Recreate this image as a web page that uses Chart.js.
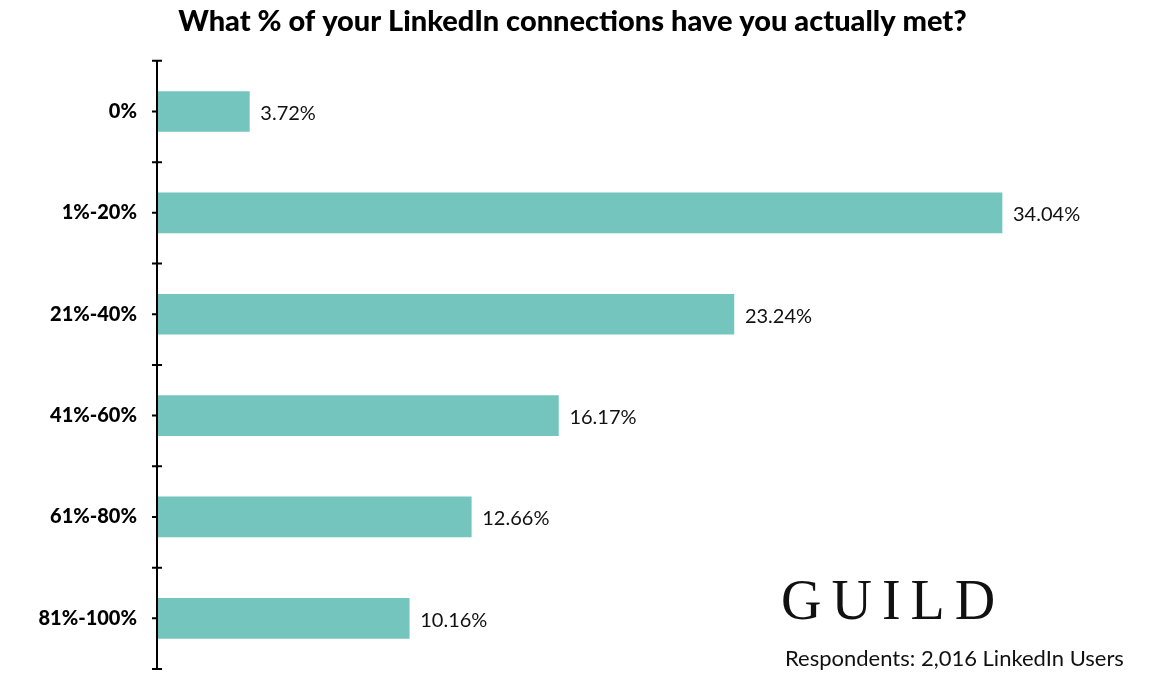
<!DOCTYPE html>
<html><head><meta charset="utf-8">
<script src="https://cdn.jsdelivr.net/npm/chart.js@4"></script>
<style>
body{margin:0;background:#fff;width:1165px;height:697px;overflow:hidden;position:relative;font-family:Lato,"Open Sans",sans-serif}
#wrap{position:absolute;left:0;top:0;width:1165px;height:697px}
#guild{position:absolute;left:781px;top:568px;font-family:"Liberation Serif","DejaVu Serif",serif;font-size:56px;letter-spacing:10px;color:#111}
#resp{position:absolute;left:785px;top:644px;font-size:22px;color:#111}
</style></head><body>
<div id="wrap"><canvas id="c"></canvas></div>
<div id="guild">GUILD</div>
<div id="resp">Respondents: 2,016 LinkedIn Users</div>
<script>
const categories = ["0%", "1%-20%", "21%-40%", "41%-60%", "61%-80%", "81%-100%"];
const values = [3.72, 34.04, 23.24, 16.17, 12.66, 10.16];

const extras = {
  id: 'extras',
  afterDraw(chart) {
    const ctx = chart.ctx, y = chart.scales.y, x = chart.scales.x;
    const ax = x.getPixelForValue(0);
    ctx.save();
    ctx.strokeStyle = '#000';
    ctx.lineWidth = 2;
    ctx.beginPath();
    ctx.moveTo(ax, chart.chartArea.top);
    ctx.lineTo(ax, chart.chartArea.bottom);
    for (let i = 0; i <= categories.length; i++) {
      const py = y.getPixelForValue(i - 0.5);
      ctx.moveTo(ax - 5, py); ctx.lineTo(ax + 5, py);
    }
    categories.forEach((c, i) => {
      const py = y.getPixelForValue(i);
      ctx.moveTo(ax - 5, py); ctx.lineTo(ax, py);
    });
    ctx.stroke();
    ctx.fillStyle = '#111';
    ctx.font = '20px Lato, sans-serif';
    ctx.textBaseline = 'middle';
    values.forEach((v, i) => {
      ctx.fillText(v.toFixed(2) + '%', x.getPixelForValue(v) + 11, y.getPixelForValue(i) + 2);
    });
    ctx.restore();
  }
};

new Chart(document.getElementById('c'), {
  type: 'bar',
  data: { labels: categories, datasets: [{ data: values, backgroundColor: '#73c5bd', barThickness: 40 }] },
  options: {
    indexAxis: 'y',
    responsive: true, maintainAspectRatio: false, animation: false,
    layout: { padding: { top: 0, right: 20, bottom: 28, left: 0 } },
    plugins: {
      legend: { display: false }, tooltip: { enabled: false },
      title: { display: true, text: 'What % of your LinkedIn connections have you actually met?',
        color: '#000', font: { family: 'Lato, sans-serif', size: 29, weight: '900' }, padding: { top: 4, bottom: 22 } }
    },
    scales: {
      x: { display: false, min: 0, max: 39.8 },
      y: { grid: { display: false }, border: { display: false },
        afterFit(s) { s.width = 157; },
        ticks: { color: '#000', padding: 12, font: { family: 'Lato, sans-serif', size: 20, weight: '900' } } }
    }
  },
  plugins: [extras]
});
</script>
</body></html>
